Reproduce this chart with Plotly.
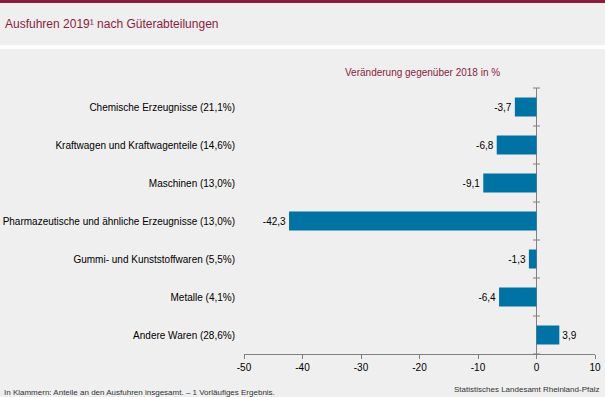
import plotly.graph_objects as go

categories = [
    "Chemische Erzeugnisse (21,1%)",
    "Kraftwagen und Kraftwagenteile (14,6%)",
    "Maschinen (13,0%)",
    "Pharmazeutische und ähnliche Erzeugnisse (13,0%)",
    "Gummi- und Kunststoffwaren (5,5%)",
    "Metalle (4,1%)",
    "Andere Waren (28,6%)",
]
values = [-3.7, -6.8, -9.1, -42.3, -1.3, -6.4, 3.9]
x_ticks = [-50, -40, -30, -20, -10, 0, 10]

title_text = "Ausfuhren 2019¹ nach Güterabteilungen"
subtitle_text = "Veränderung gegenüber 2018 in %"
footer_left = "In Klammern: Anteile an den Ausfuhren insgesamt. – 1 Vorläufiges Ergebnis."
footer_right = "Statistisches Landesamt Rheinland-Pfalz"

W, H = 605, 397
L, R, T, B = 244, 10, 88, 43
PW, PH = W - L - R, H - T - B

def xp(px):
    return (px - L) / PW

def yp(py):
    return (H - B - py) / PH

FONT = "Liberation Sans, Arial, sans-serif"
BG = "#efefef"
RED = "#8c1c3c"
BAR = "#0072a3"
AXIS = "#808080"

idx = list(range(len(categories)))
boundaries = [i - 0.5 for i in range(len(categories) + 1)]
value_labels = [f"{v:.1f}".replace(".", ",") for v in values]
x_tick_labels = [str(v) for v in x_ticks]

fig = go.Figure()
fig.add_trace(go.Bar(
    x=values, y=idx, orientation="h", width=0.5,
    marker=dict(color=BAR, line=dict(width=0)),
    text=value_labels, texttemplate="%{text}", textposition="outside",
    textfont=dict(family=FONT, size=10, color="#000000"),
    cliponaxis=False, hoverinfo="skip",
))
fig.add_trace(go.Scatter(
    x=[0] * len(boundaries), y=boundaries, mode="markers",
    marker=dict(symbol="line-ew", size=5, line=dict(color=AXIS, width=1)),
    cliponaxis=False, hoverinfo="skip", showlegend=False,
))

fig.update_layout(
    width=W, height=H, autosize=False,
    margin=dict(l=L, r=R, t=T, b=B, pad=0, autoexpand=False),
    paper_bgcolor=BG, plot_bgcolor=BG,
    separators=",.",
    showlegend=False,
    font=dict(family=FONT, size=10, color="#000000"),
    xaxis=dict(
        range=[-50, 10], tickvals=x_ticks, ticktext=x_tick_labels,
        showgrid=False, zeroline=True, zerolinecolor=AXIS, zerolinewidth=1,
        showline=True, linecolor=AXIS, linewidth=1,
        ticks="outside", ticklen=4, tickcolor=AXIS, tickwidth=1,
        tickfont=dict(family=FONT, size=10, color="#000000"),
        fixedrange=True, automargin=False,
    ),
    yaxis=dict(
        range=[len(categories) - 0.5, -0.5],
        tickvals=idx, ticktext=categories,
        showgrid=False, zeroline=False, showline=False,
        ticks="outside", ticklen=6, tickcolor="rgba(0,0,0,0)",
        tickfont=dict(family=FONT, size=10, color="#000000"),
        fixedrange=True, automargin=False,
    ),
    shapes=[
        dict(type="rect", xref="paper", yref="paper", x0=xp(-2), x1=xp(W + 2), y0=yp(-2), y1=yp(3),
             fillcolor=RED, line=dict(width=0), layer="above"),
        dict(type="rect", xref="paper", yref="paper", x0=xp(-2), x1=xp(W + 2), y0=yp(45), y1=yp(49),
             fillcolor="#ffffff", line=dict(width=0), layer="below"),
    ],
    annotations=[
        dict(text=title_text, xref="paper", yref="paper", x=xp(3), y=yp(24),
             xanchor="left", yanchor="middle", showarrow=False,
             font=dict(family=FONT, size=12, color=RED)),
        dict(text=subtitle_text, xref="paper", yref="paper", x=xp(502), y=yp(73),
             xanchor="right", yanchor="middle", showarrow=False,
             font=dict(family=FONT, size=10, color=RED)),
        dict(text=footer_left, xref="paper", yref="paper", x=xp(2), y=yp(392),
             xanchor="left", yanchor="middle", showarrow=False,
             font=dict(family=FONT, size=8, color="#333333")),
        dict(text=footer_right, xref="paper", yref="paper", x=xp(601), y=yp(389),
             xanchor="right", yanchor="middle", showarrow=False,
             font=dict(family=FONT, size=8, color="#333333")),
    ],
)

fig.write_html(
    "out.html",
    config={"displayModeBar": False},
    post_script="document.body.style.margin='0';document.body.style.padding='0';",
)
